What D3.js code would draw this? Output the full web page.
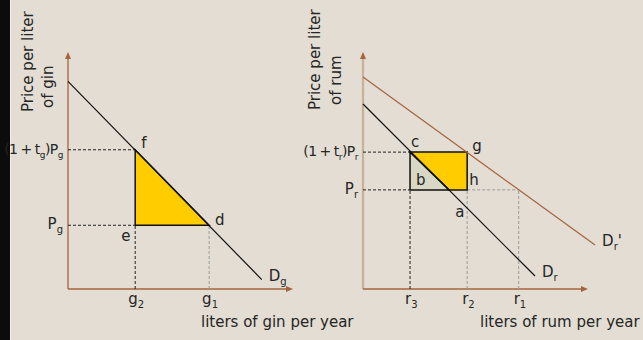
<!DOCTYPE html>
<html>
<head>
<meta charset="utf-8">
<script src="https://cdn.jsdelivr.net/npm/d3@7"></script>
<style>
  html, body { margin: 0; padding: 0; background: #e3ddd3; }
  svg { display: block; font-family: "DejaVu Sans", sans-serif; }
  .lbl { font-size: 15px; fill: #262626; }
  .tight { font-size: 14px; letter-spacing: -0.5px; word-spacing: -1px; }
  .sub { font-size: 10px; }
  .tight .sub { font-size: 9px; }
</style>
</head>
<body>
<div id="chart"></div>
<script>
// Tax on gin vs. tax on rum: demand curves and welfare areas
// quantities and prices are in abstract units (0..10 on each axis)

const ginDemand = [[0, 8.8], [8.65, 0.4]];
const ginPriceLevels = [2.7, 5.9];            // Pg, (1 + tg)Pg
const ginQuantityLevels = [3.0, 6.3];         // g2, g1
const ginTriangle = [[3.0, 5.9], [3.0, 2.7], [6.3, 2.7]]; // f, e, d

const rumDemand = [[0, 7.84], [7.68, 0.55]];
const rumDemandShifted = [[0, 8.98], [10.36, 1.86]];
const rumPriceLevels = [4.2, 5.8];            // Pr, (1 + tr)Pr
const rumQuantityLevels = [2.1, 4.65, 6.95];  // r3, r2, r1
const rumCross = 3.84;                        // where Dr meets Pr
const rumLossTriangle = [[2.1, 5.8], [2.1, 4.2], [rumCross, 4.2]];
const rumGainArea = [[2.1, 5.8], [4.65, 5.8], [4.65, 4.2], [rumCross, 4.2]];

const ginPriceLabels = [["P", "g", ""], ["(1 + t", "g", ")P", "g"]];
const ginQuantityLabels = [["g", "2"], ["g", "1"]];
const rumPriceLabels = [["P", "r", ""], ["(1 + t", "r", ")P", "r"]];
const rumQuantityLabels = [["r", "3"], ["r", "2"], ["r", "1"]];

const ginPointLabels = [
  { text: "f", q: 3.0, p: 5.9 },
  { text: "e", q: 3.0, p: 2.7 },
  { text: "d", q: 6.3, p: 2.7 },
];
const rumPointLabels = [
  { text: "c", q: 2.1, p: 5.8 },
  { text: "g", q: 4.65, p: 5.8 },
  { text: "b", q: 2.1, p: 4.2 },
  { text: "h", q: 4.65, p: 4.2 },
  { text: "a", q: 4.65, p: 4.2 },
];
// offsets for point letters (pixels)
const pointOffsets = {
  f: [6, -2], e: [-14, 16], d: [6, 0],
  c: [1, -5], g: [5, -1], b: [6, -5], h: [2, -5], a: [-12, 27],
};

const W = 643, H = 340;
const BROWN = "#a5643b", AXIS_LIGHT = "#c9b09b";

const svg = d3.select("#chart").append("svg").attr("width", W).attr("height", H);
svg.append("rect").attr("width", W).attr("height", H).attr("fill", "#e3ddd3");
svg.append("rect").attr("width", 10).attr("height", H).attr("fill", "#0c0c0c");
svg.append("rect").attr("x", 10).attr("width", 1).attr("height", H).attr("fill", "#f2efe9");

const pScale = d3.scaleLinear().domain([0, 10]).range([289, 53]);
const xGin = d3.scaleLinear().domain([0, 10]).range([68, 292]);
const xRum = d3.scaleLinear().domain([0, 10]).range([363, 587]);

function subText(sel, parts) {
  // parts alternate: normal, subscript, normal, subscript...
  parts.forEach((t, i) => {
    if (!t) return;
    const sp = sel.append("tspan").text(t);
    if (i % 2 === 1) sp.attr("class", "sub").attr("dy", 4);
    else if (i > 0) sp.attr("dy", -4);
  });
}

function drawPanel(g, x, opts) {
  const line = d3.line().x((d) => x(d[0])).y((d) => pScale(d[1]));
  const x0 = x(0), y0 = pScale(0), xEnd = x(10), yTop = pScale(10);

  // axes
  g.append("line").attr("x1", x0).attr("y1", y0).attr("x2", x0).attr("y2", yTop + 4)
    .attr("stroke", opts.yAxisColor).attr("stroke-width", opts.yAxisWidth);
  g.append("line").attr("x1", x0).attr("y1", y0).attr("x2", xEnd - 4).attr("y2", y0)
    .attr("stroke", BROWN).attr("stroke-width", 1.3);
  g.append("path").attr("fill", BROWN)
    .attr("d", `M${x0},${yTop - 1}L${x0 - 3},${yTop + 6}L${x0 + 3},${yTop + 6}Z`);
  g.append("path").attr("fill", BROWN)
    .attr("d", `M${xEnd + 1},${y0}L${xEnd - 6},${y0 - 3}L${xEnd - 6},${y0 + 3}Z`);

  // dashed guides
  opts.dashes.forEach((d) => {
    g.append("line")
      .attr("x1", x(d.from[0])).attr("y1", pScale(d.from[1]))
      .attr("x2", x(d.to[0])).attr("y2", pScale(d.to[1]))
      .attr("stroke", d.gray ? "#9a9a9a" : "#222")
      .attr("stroke-width", 1)
      .attr("stroke-dasharray", "3,2");
  });

  // areas
  opts.areas.forEach((a) => {
    g.append("path").attr("d", line(a.pts) + "Z")
      .attr("fill", a.fill).attr("stroke", "#111").attr("stroke-width", 1.5)
      .attr("stroke-linejoin", "miter");
  });

  // demand curves
  opts.curves.forEach((c) => {
    g.append("path").attr("d", line(c.pts)).attr("fill", "none")
      .attr("stroke", c.color).attr("stroke-width", 1.2);
  });

  // price labels on y axis (the long tax label is set a bit tighter)
  opts.priceLevels.forEach((p, i) => {
    const t = g.append("text").attr("class", i === 1 ? "lbl tight" : "lbl")
      .attr("text-anchor", "end")
      .attr("x", x0 - 5).attr("y", pScale(p) + 4);
    subText(t, opts.priceLabels[i]);
  });

  // quantity labels under x axis
  opts.qLevels.forEach((q, i) => {
    const t = g.append("text").attr("class", "lbl")
      .attr("x", x(q) - opts.qShift).attr("y", y0 + 15);
    subText(t, opts.qLabels[i]);
  });

  // point letters
  opts.points.forEach((pt) => {
    const off = pointOffsets[pt.text];
    g.append("text").attr("class", "lbl")
      .attr("x", x(pt.q) + off[0]).attr("y", pScale(pt.p) + off[1]).text(pt.text);
  });

  // curve names
  opts.curveNames.forEach((c) => {
    const last = c.pts[c.pts.length - 1];
    const t = g.append("text").attr("class", "lbl")
      .attr("x", x(last[0]) + 7).attr("y", pScale(last[1]) + 1);
    subText(t, c.name);
  });

  // axis titles
  g.append("text").attr("class", "lbl").attr("x", opts.xTitleX).attr("y", 327).text(opts.xTitle);
  opts.yTitle.forEach((row) => {
    g.append("text").attr("class", "lbl")
      .attr("transform", `translate(${row.x},${row.y}) rotate(-90)`).text(row.text);
  });
}

drawPanel(svg.append("g"), xGin, {
  yAxisColor: BROWN, yAxisWidth: 1.3,
  dashes: [
    { from: [0, ginPriceLevels[1]], to: [ginQuantityLevels[0], ginPriceLevels[1]] },
    { from: [0, ginPriceLevels[0]], to: [ginQuantityLevels[0], ginPriceLevels[0]] },
    { from: [ginQuantityLevels[0], 0], to: [ginQuantityLevels[0], ginPriceLevels[0]] },
    { from: [ginQuantityLevels[1], 0], to: [ginQuantityLevels[1], ginPriceLevels[0]], gray: true },
  ],
  areas: [{ pts: ginTriangle, fill: "#ffcc00" }],
  curves: [{ pts: ginDemand, color: "#111" }],
  priceLevels: ginPriceLevels, priceLabels: ginPriceLabels,
  qLevels: ginQuantityLevels, qLabels: ginQuantityLabels, qShift: 7,
  points: ginPointLabels,
  curveNames: [{ pts: ginDemand, name: ["D", "g"] }],
  xTitle: "liters of gin per year", xTitleX: 201,
  yTitle: [{ text: "Price per liter", x: 33, y: 112 }, { text: "of gin", x: 53, y: 108 }],
});

drawPanel(svg.append("g"), xRum, {
  yAxisColor: AXIS_LIGHT, yAxisWidth: 2.2,
  dashes: [
    { from: [0, rumPriceLevels[1]], to: [rumQuantityLevels[0], rumPriceLevels[1]] },
    { from: [0, rumPriceLevels[0]], to: [rumQuantityLevels[0], rumPriceLevels[0]] },
    { from: [rumQuantityLevels[1], rumPriceLevels[0]], to: [rumQuantityLevels[2], rumPriceLevels[0]], gray: true },
    { from: [rumQuantityLevels[0], 0], to: [rumQuantityLevels[0], rumPriceLevels[0]] },
    { from: [rumQuantityLevels[1], 0], to: [rumQuantityLevels[1], rumPriceLevels[0]], gray: true },
    { from: [rumQuantityLevels[2], 0], to: [rumQuantityLevels[2], rumPriceLevels[0]], gray: true },
  ],
  areas: [
    { pts: rumGainArea, fill: "#ffcc00" },
    { pts: rumLossTriangle, fill: "#d9d8c4" },
  ],
  curves: [
    { pts: rumDemandShifted, color: BROWN },
    { pts: rumDemand, color: "#111" },
  ],
  priceLevels: rumPriceLevels, priceLabels: rumPriceLabels,
  qLevels: rumQuantityLevels, qLabels: rumQuantityLabels, qShift: 5,
  points: rumPointLabels,
  curveNames: [
    { pts: rumDemandShifted, name: ["D", "r", "'"] },
    { pts: rumDemand, name: ["D", "r"] },
  ],
  xTitle: "liters of rum per year", xTitleX: 480,
  yTitle: [{ text: "Price per liter", x: 320, y: 110 }, { text: "of rum", x: 341, y: 105 }],
});
</script>
</body>
</html>
